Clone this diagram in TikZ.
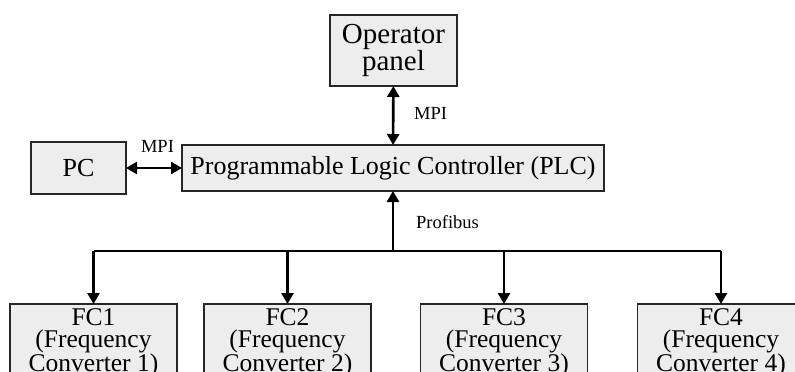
\documentclass[tikz,border=0pt]{standalone}
\usepackage{fontspec}
\setmainfont{Liberation Serif}
\usetikzlibrary{arrows.meta}

\begin{document}
\begin{tikzpicture}
[x=1pt,y=-1pt,
 box/.style={draw=black!85,line width=1.3pt,fill=black!7,inner sep=0pt,outer sep=0pt,
             align=center,font=\fontsize{26}{24}\selectfont},
 fcbox/.style={box,anchor=north,minimum width=167pt,inner ysep=5pt,
               font=\fontsize{25.5}{21.5}\selectfont},
 lbl/.style={inner sep=0pt,font=\fontsize{18.5}{20}\selectfont},
 link/.style={line width=2.6pt},
 arr/.style={link,-{Triangle[length=11pt,width=12pt]}},
 biarr/.style={link,{Triangle[length=11pt,width=12pt]}-{Triangle[length=11pt,width=12pt]}}]
\useasboundingbox (0,0) rectangle (795,372);
\node[box,minimum width=127pt,minimum height=71pt,font=\fontsize{29}{24}\selectfont]
  (op) at (393.5,50.5) {Operator\\panel};
\node[box,minimum width=95pt,minimum height=52pt]  (pc)  at (78.5,168)   {PC};
\node[box,minimum width=422pt,minimum height=46pt] (plc) at (393,168)    {Programmable Logic Controller (PLC)};
\node[fcbox] (fc1) at (93.5,304) {FC1\\(Frequency\\Converter 1)};
\node[fcbox] (fc2) at (287.5,304) {FC2\\(Frequency\\Converter 2)};
\node[fcbox] (fc3) at (504,304)  {FC3\\(Frequency\\Converter 3)};
\node[fcbox] (fc4) at (721,304)  {FC4\\(Frequency\\Converter 4)};

\draw[biarr] (op) -- (plc);
\draw[biarr] (pc) -- (plc);
\node[lbl] (mpiop) at (430.5,113) {MPI};
\node[lbl] (mpipc) at (157.5,146) {MPI};

\coordinate (bus) at (393,251);
\draw[link] (bus -| fc1) -- (bus -| fc4);
\foreach \i in {1,...,4}
  \draw[arr] (bus -| fc\i) -- (fc\i);
\draw[arr] (bus) -- (plc);
\node[lbl] (pbus) at (447.5,222) {Profibus};
\end{tikzpicture}
\end{document}
